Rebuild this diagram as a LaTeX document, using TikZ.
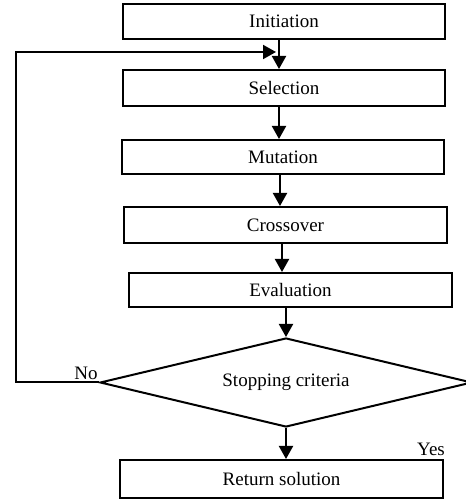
\documentclass[tikz,border=0pt]{standalone}
\usepackage{fontspec}
\setmainfont{Liberation Serif}
\usetikzlibrary{arrows.meta,shapes.geometric}

\begin{document}
\begin{tikzpicture}[>={Triangle[length=13bp,width=14bp]},line join=miter,
  every node/.style={font=\fontsize{19bp}{22bp}\selectfont},
  stepbox/.style={draw,rectangle,minimum width=322bp,minimum height=35bp,inner sep=0bp},
  testbox/.style={draw,diamond,aspect=4.18,minimum width=372bp,minimum height=89bp,inner sep=0bp}]
  \pgfsetlinewidth{2bp}
  \useasboundingbox (0bp,0bp) rectangle (466bp,501bp);
%%
  % Node: init
  \node[stepbox] (init) at (284bp,479.5bp) {Initiation};
  % Node: sel
  \node[stepbox,minimum height=36bp] (sel) at (284bp,413bp) {Selection};
  % Node: mut
  \node[stepbox,minimum height=34bp] (mut) at (283bp,344bp) {Mutation};
  % Node: cross
  \node[stepbox,minimum width=323bp,minimum height=36bp] (cross) at (285.5bp,276bp) {Crossover};
  % Node: eval
  \node[stepbox,minimum width=323bp,minimum height=34bp] (eval) at (290.5bp,211bp) {Evaluation};
  % Node: stop
  \node[testbox] (stop) at (286bp,118.5bp) {Stopping criteria};
  % Node: ret
  \node[stepbox,minimum width=323bp,minimum height=38bp] (ret) at (281.5bp,22bp) {Return solution};
  % Labels
  \node (no) at (86bp,128bp) {No};
  \node (yes) at (431bp,52bp) {Yes};
%
  \coordinate (loop) at (279bp,449bp);
  \coordinate (back) at (16bp,118.5bp);
  % Edge: init -> sel
  \draw [->] (init.south -| loop) -- (sel.north -| loop);
  % Edge: sel -> mut
  \draw [->] (sel.south -| loop) -- (mut.north -| loop);
  % Edge: mut -> cross
  \draw [->] ([xshift=1bp]mut.south -| loop) -- ([xshift=1bp]cross.north -| loop);
  % Edge: cross -> eval
  \draw [->] ([xshift=3bp]cross.south -| loop) -- ([xshift=3bp]eval.north -| loop);
  % Edge: eval -> stop
  \draw [->] (eval.south -| stop.north) -- (stop.north);
  % Edge: stop -> ret
  \draw [->] (stop.south) -- (stop.south |- ret.north);
  % Edge: stop -> sel (No)
  \draw [->,shorten >=3bp] (stop.west) -- (back) |- (loop);
%
\end{tikzpicture}
\end{document}
